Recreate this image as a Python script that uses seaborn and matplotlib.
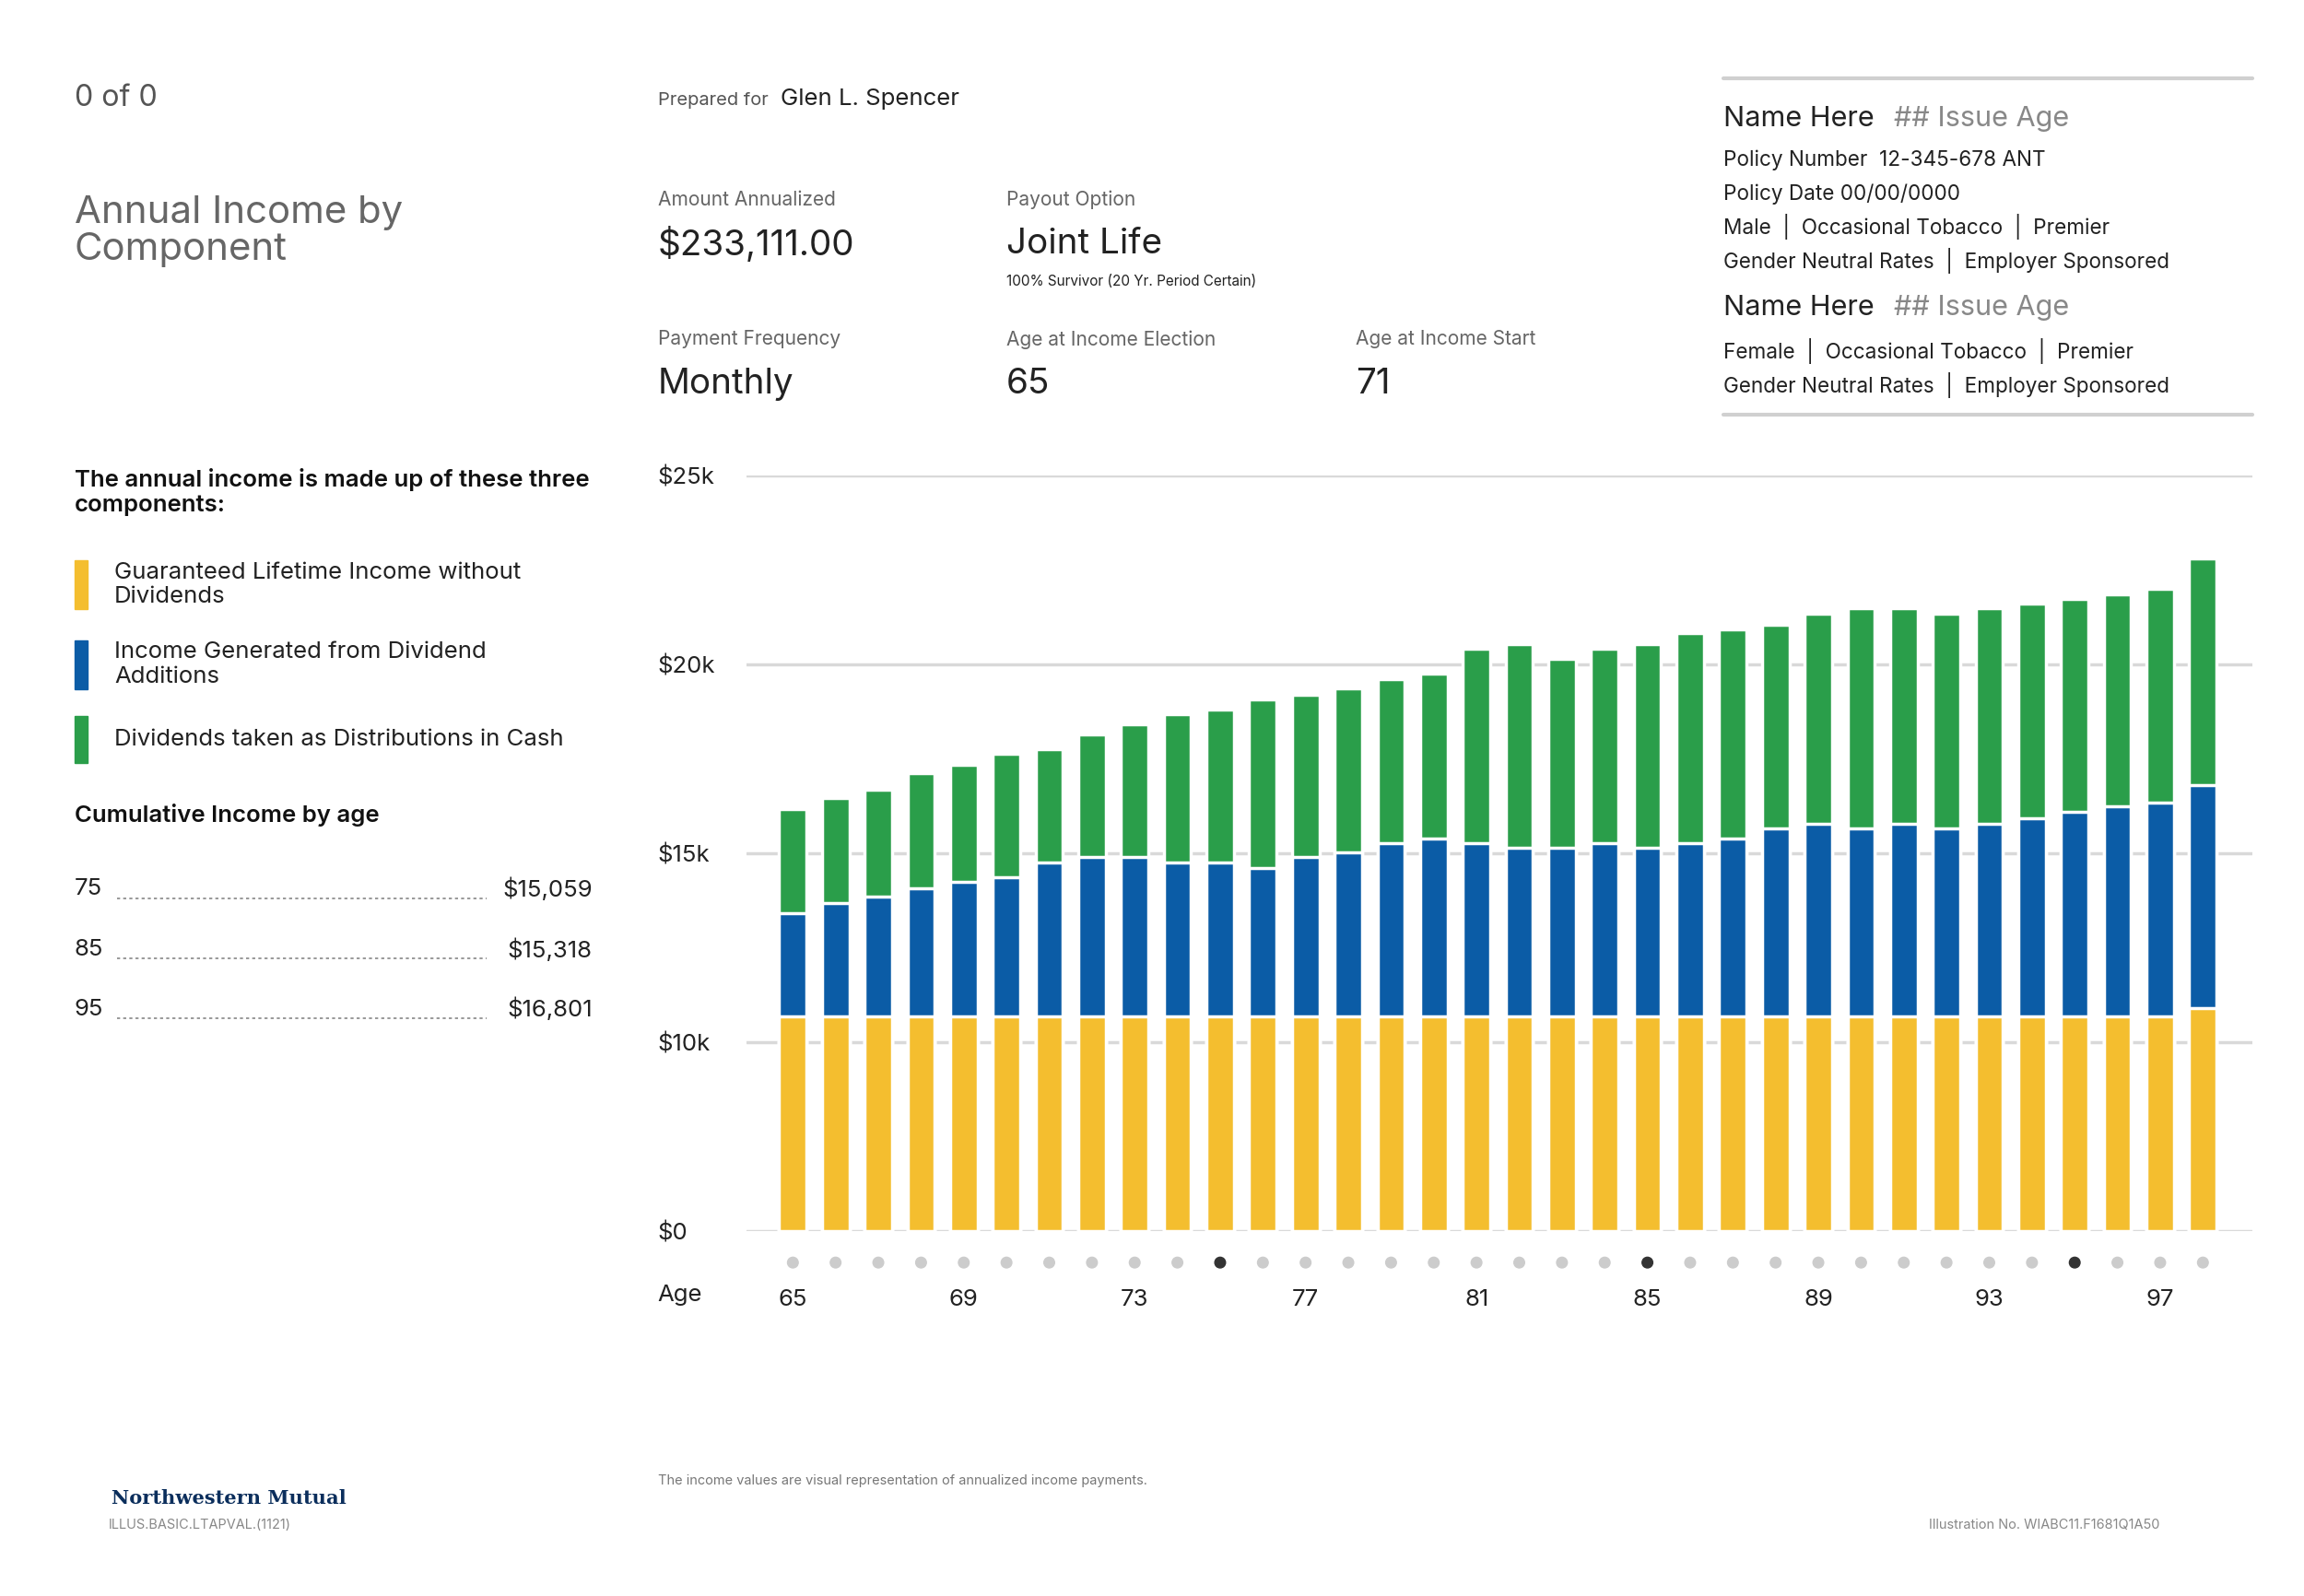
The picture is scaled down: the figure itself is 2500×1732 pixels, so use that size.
import numpy as np
import pandas as pd
import matplotlib
matplotlib.use("Agg")
import matplotlib.pyplot as plt
import matplotlib.transforms as mtransforms
import seaborn as sns

ages = list(range(65, 99))
guaranteed = [10.69]*33 + [10.9]
div_additions_top = [13.43,13.70,13.86,14.09,14.25,14.37,14.76,14.92,14.92,14.76,14.76,14.61,14.92,15.04,15.28,15.39,
                     15.28,15.16,15.16,15.28,15.16,15.28,15.39,15.67,15.79,15.67,15.79,15.67,15.79,15.94,16.10,16.26,16.34,16.81]
total_income = [16.18,16.46,16.69,17.13,17.36,17.64,17.76,18.15,18.43,18.70,18.82,19.09,19.21,19.37,19.61,19.76,
                20.43,20.55,20.16,20.43,20.55,20.83,20.94,21.06,21.34,21.50,21.50,21.34,21.50,21.61,21.73,21.85,22.01,22.80]
ytick_vals = [0, 10000, 15000, 20000, 25000]
ytick_labels = ["$0", "$10k", "$15k", "$20k", "$25k"]
cum_ages = ["75", "85", "95"]
cum_vals = ["$15,059", "$15,318", "$16,801"]
highlight_ages = [75, 85, 95]

YEL, BLU, GRN = "#F4BE2F", "#0B5CA6", "#2A9E4A"
df = pd.DataFrame({"age": ages,
                   "g": np.array(guaranteed)*1000,
                   "b": np.array(div_additions_top)*1000,
                   "t": np.array(total_income)*1000})

sns.set_theme(style="white")
plt.rcParams['font.family'] = ['Inter', 'DejaVu Sans']

W, H = 1552, 1077
fig = plt.figure(figsize=(25, 17.32), dpi=100)
K = 1.16

def T(x, y, s, size, color="#222222", **kw):
    fig.text(x/W, 1-y/H, s, fontsize=size*K, color=color, va=kw.pop("va", "center"), **kw)

ax = fig.add_axes([503/W, 1-831/H, (1517-503)/W, 510/H])

def fwd(v):
    v = np.asarray(v, dtype=float)
    return np.where(v < 10000, v/10000, 1+(v-10000)/5000)
def inv(p):
    p = np.asarray(p, dtype=float)
    return np.where(p < 1, p*10000, 10000+(p-1)*5000)
ax.set_yscale("function", functions=(fwd, inv))

for col, c in [("t", GRN), ("b", BLU), ("g", YEL)]:
    sns.barplot(data=df, x="age", y=col, color=c, ax=ax, width=0.64,
                edgecolor="white", linewidth=2.5, saturation=1, zorder=3)

ax.set_ylim(0, 25000)
ax.set_xlim(-1.08, 34.15)
ax.set_yticks(ytick_vals)
ax.set_yticklabels(ytick_labels)
for t in ax.get_yticklabels():
    t.set_ha("left")
ax.tick_params(axis="y", length=0, pad=70, labelsize=16*K, labelcolor="#222222")
ax.yaxis.grid(True, color="#d9d9d9", linewidth=2.5, zorder=0)
ax.set_xticks(range(0, 34, 4))
ax.set_xticklabels([str(a) for a in ages[::4]])
ax.tick_params(axis="x", length=0, pad=45, labelsize=16*K, labelcolor="#222222")
ax.set_xlabel(""); ax.set_ylabel("")
for s in ax.spines.values():
    s.set_visible(False)

tr = mtransforms.blended_transform_factory(ax.transData, ax.transAxes)
xs = np.arange(len(ages))
cols = ["#333333" if a in highlight_ages else "#cccccc" for a in ages]
ax.scatter(xs, [-21/510]*len(ages), s=70, c=cols, transform=tr, clip_on=False, zorder=4)

T(443, 874, "Age", 16)
T(50, 66, "0 of 0", 20, "#555555")
T(50, 156, "Annual Income by\nComponent", 26, "#666666", linespacing=1.05)
T(443, 68, "Prepared for", 12.5, "#555555")
T(526, 67, "Glen L. Spencer", 16)
T(443, 135, "Amount Annualized", 13, "#666666")
T(443, 165, "$233,111.00", 24)
T(678, 135, "Payout Option", 13, "#666666")
T(678, 165, "Joint Life", 24)
T(678, 190, "100% Survivor (20 Yr. Period Certain)", 9.5)
T(443, 229, "Payment Frequency", 13, "#666666")
T(443, 259, "Monthly", 24)
T(678, 229, "Age at Income Election", 13, "#666666")
T(678, 259, "65", 24)
T(913, 229, "Age at Income Start", 13, "#666666")
T(913, 259, "71", 24)

for y in (53, 280):
    fig.add_artist(plt.Line2D([1161/W, 1517/W], [1-y/H]*2, color="#d0d0d0", lw=3))
T(1161, 80, "Name Here", 19); T(1276, 80, "## Issue Age", 19, "#888888")
T(1161, 108, "Policy Number  12-345-678 ANT", 14)
T(1161, 131, "Policy Date 00/00/0000", 14)
T(1161, 153, "Male  |  Occasional Tobacco  |  Premier", 14)
T(1161, 176, "Gender Neutral Rates  |  Employer Sponsored", 14)
T(1161, 208, "Name Here", 19); T(1276, 208, "## Issue Age", 19, "#888888")
T(1161, 237, "Female  |  Occasional Tobacco  |  Premier", 14)
T(1161, 260, "Gender Neutral Rates  |  Employer Sponsored", 14)

T(50, 332, "The annual income is made up of these three\ncomponents:", 16, "#111111", fontweight="semibold", linespacing=1.2)
legend = [(YEL, 378, 411, "Guaranteed Lifetime Income without\nDividends"),
          (BLU, 432, 465, "Income Generated from Dividend\nAdditions"),
          (GRN, 483, 515, "Dividends taken as Distributions in Cash")]
for c, y0, y1, s in legend:
    fig.add_artist(plt.Rectangle((50/W, 1-y1/H), 9/W, (y1-y0)/H, color=c))
    T(77, (y0+y1)/2, s, 16, "#222222", linespacing=1.2)
T(50, 550, "Cumulative Income by age", 16, "#111111", fontweight="semibold")
for a, v, y in zip(cum_ages, cum_vals, [600, 641, 681]):
    T(50, y, a, 16)
    T(399, y, v, 16, ha="right")
    fig.add_artist(plt.Line2D([79/W, 328/W], [1-(y+6)/H]*2, color="#888888", lw=1.2, ls=(0, (2, 2))))

T(443, 999, "The income values are visual representation of annualized income payments.", 9, "#777777")
T(75, 1011, "Northwestern Mutual", 13, "#0b2e5c", family="DejaVu Serif", fontweight="bold")
T(73, 1029, "ILLUS.BASIC.LTAPVAL.(1121)", 9, "#888888")
T(1455, 1029, "Illustration No. WIABC11.F1681Q1A50", 9, "#888888", ha="right")

fig.savefig("out.png", dpi=100, facecolor="white")
